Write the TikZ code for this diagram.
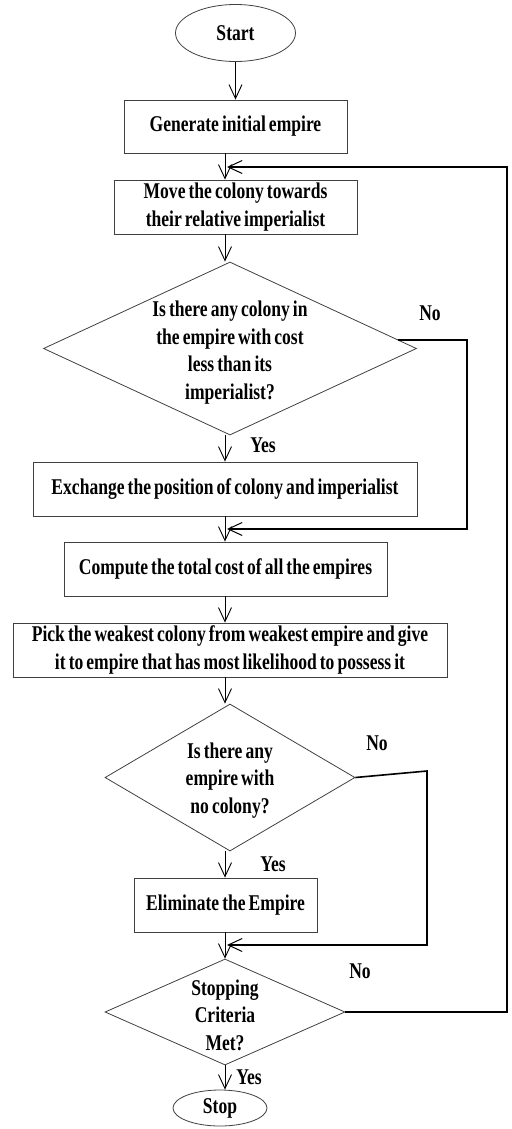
\documentclass[tikz,border=0pt]{standalone}
\usepackage{fontspec}
\setmainfont{Liberation Serif}[FakeStretch=0.78, WordSpace=0.7]
\usetikzlibrary{shapes.geometric,arrows.meta,calc}

\begin{document}
\begin{tikzpicture}[x=1pt,y=-1pt,
  every node/.style={font=\fontsize{22.5}{27.5}\selectfont\bfseries, inner sep=0pt},
  procbox/.style={draw=black!75, line width=0.8pt, rectangle, minimum height=54pt, align=center},
  termnode/.style={draw=black!75, line width=0.8pt, ellipse},
  decision/.style={draw=black!75, line width=0.8pt, diamond},
  qtext/.style={align=center},
  flow/.style={line width=0.9pt, -{Straight Barb[length=14pt,width=13pt,line width=0.9pt]}},
  backflow/.style={line width=1.6pt, -{Straight Barb[length=14pt,width=13pt,line width=1pt]}},
  tag/.style={anchor=base}]

\useasboundingbox (0,0) rectangle (511,1129);

% main vertical axis and junction points of the feedback loops
\coordinate (axis) at (225,0);
\coordinate (j0) at (227,167);
\coordinate (j1) at (227,529);
\coordinate (j2) at (227,945);
\coordinate (r1) at (467,0);
\coordinate (r2) at (427,771);
\coordinate (r3) at (507,0);

% terminals
\node[termnode, minimum width=120pt, minimum height=57pt] (start) at (235.5,33) {Start};
\node[termnode, minimum width=94pt, minimum height=36pt] (stop) at (220,1108) {Stop};

% process boxes
\node[procbox, minimum width=223pt, minimum height=53pt] (box1) at (235.5,126.5) {Generate initial empire};
\node[procbox, minimum width=243pt] (box2) at (235.5,207) {Move the colony towards\\their relative imperialist};
\node[procbox, minimum width=384pt] (box3) at (225,489) {Exchange the position of colony and imperialist};
\node[procbox, minimum width=323pt] (box4) at (225.5,569) {Compute the total cost of all the empires};
\node[procbox, minimum width=434pt] (box5) at (230,650) {Pick the weakest colony from weakest empire and give\\it to empire that has most likelihood to possess it};
\node[procbox, minimum width=183pt] (box6) at (225.5,905) {Eliminate the Empire};

% decisions
\node[decision, minimum width=373pt, minimum height=173pt] (d1) at (230,348.5) {};
\node[qtext] (d1text) at ($(d1)+(0,4)$) {Is there any colony in\\the empire with cost\\less than its\\imperialist?};
\node[decision, minimum width=250pt, minimum height=147pt] (d2) at (230,777.5) {};
\node[qtext] (d2text) at ($(d2)+(0,3)$) {Is there any\\empire with\\no colony?};
\node[decision, minimum width=240pt, minimum height=106pt] (d3) at (225,1012) {};
\node[qtext] (d3text) at ($(d3)+(0,3)$) {Stopping\\Criteria\\Met?};

% branch labels
\node[tag] (no1) at (430,320) {No};
\node[tag] (yes1) at (263,452) {Yes};
\node[tag] (no2) at (377,750) {No};
\node[tag] (yes2) at (273,871) {Yes};
\node[tag] (no3) at (360,978) {No};
\node[tag] (yes3) at (249,1084) {Yes};

% main flow
\draw[flow] (start.south) -- (box1.north);
\draw[flow] (box1.south -| axis) -- (box2.north -| axis);
\draw[flow] (box2.south -| axis) -- (axis |- d1.north);
\draw[flow] (axis |- d1.south) -- (box3.north -| axis);
\draw[flow] (box3.south -| axis) -- (box4.north -| axis);
\draw[flow] (box4.south -| axis) -- (box5.north -| axis);
\draw[flow] (box5.south -| axis) -- (axis |- d2.north);
\draw[flow] (axis |- d2.south) -- (box6.north -| axis);
\draw[flow] (box6.south -| axis) -- (d3.north);
\draw[flow] (d3.south) -- (stop.north -| d3.south);

% feedback loops
\draw[backflow] (d1.3) -| (r1 |- j1) -- (j1);
\draw[backflow] (d2.east) -- (r2) -- (r2 |- j2) -- (j2);
\draw[backflow] (d3.east) -| (r3 |- j0) -- (j0);
\end{tikzpicture}
\end{document}
